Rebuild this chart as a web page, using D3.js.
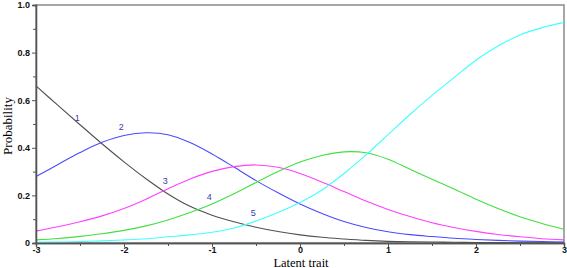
<!DOCTYPE html>
<html>
<head>
<meta charset="utf-8">
<script src="https://cdn.jsdelivr.net/npm/d3@7"></script>
<style>
  body { margin: 0; background: #fff; }
  svg { display: block; }
</style>
</head>
<body>
<svg id="chart" width="567" height="268"></svg>
<script>
// theta grid and category probabilities
let theta = [-3, -2.75, -2.5, -2.25, -2, -1.75, -1.5, -1.25, -1, -0.75, -0.5, -0.25, 0,
             0.25, 0.5, 0.75, 1, 1.25, 1.5, 1.75, 2, 2.25, 2.5, 2.75, 3];
let cat1 = [0.660, 0.578, 0.497, 0.417, 0.341, 0.270, 0.206, 0.154, 0.117, 0.089, 0.066, 0.048, 0.034,
            0.024, 0.017, 0.011, 0.007, 0.005, 0.004, 0.003, 0.002, 0.002, 0.001, 0.001, 0.001];
let cat2 = [0.279, 0.330, 0.380, 0.423, 0.452, 0.463, 0.455, 0.422, 0.374, 0.319, 0.262, 0.211, 0.164,
            0.124, 0.090, 0.065, 0.047, 0.035, 0.027, 0.020, 0.015, 0.011, 0.008, 0.006, 0.004];
let cat3 = [0.050, 0.068, 0.089, 0.114, 0.145, 0.184, 0.228, 0.269, 0.301, 0.321, 0.328, 0.318, 0.292,
            0.256, 0.216, 0.176, 0.141, 0.111, 0.085, 0.065, 0.049, 0.036, 0.026, 0.018, 0.013];
let cat4 = [0.013, 0.019, 0.028, 0.039, 0.053, 0.072, 0.097, 0.128, 0.164, 0.207, 0.254, 0.300, 0.340,
            0.368, 0.383, 0.379, 0.352, 0.310, 0.268, 0.227, 0.184, 0.145, 0.110, 0.082, 0.058];
let cat5 = [0.003, 0.004, 0.006, 0.009, 0.013, 0.018, 0.026, 0.034, 0.045, 0.063, 0.092, 0.128, 0.170,
            0.223, 0.292, 0.370, 0.455, 0.540, 0.620, 0.695, 0.768, 0.828, 0.874, 0.905, 0.927];
let catNames = ["1", "2", "3", "4", "5"];
let labelX = [-2.53, -2.03, -1.53, -1.03, -0.53];
let labelY = [0.524, 0.486, 0.259, 0.192, 0.127];
let xTicks = [-3, -2, -1, 0, 1, 2, 3];
let yTicks = [0, 0.2, 0.4, 0.6, 0.8, 1.0];

let colors = ["#505050", "#4a4aff", "#ff40ff", "#40e040", "#40ffff"];
let series = [cat1, cat2, cat3, cat4, cat5];

let svg = d3.select("#chart");
let mLeft = 36, mRight = 564, mTop = 5, mBottom = 243;

let xScale = d3.scaleLinear().domain([-3, 3]).range([mLeft, mRight]);
let yScale = d3.scaleLinear().domain([0, 1]).range([mBottom, mTop]);

// frame
svg.append("rect")
    .attr("x", mLeft)
    .attr("y", mTop)
    .attr("width", mRight - mLeft)
    .attr("height", mBottom - mTop)
    .attr("fill", "none")
    .attr("stroke", "#8a8a8a")
    .attr("stroke-width", 1.5);

// curves
let line = d3.line()
    .curve(d3.curveCatmullRom.alpha(0.5))
    .x((d, i) => xScale(theta[i]))
    .y((d) => yScale(d));

series.forEach(function (s, k) {
    svg.append("path")
        .attr("fill", "none")
        .attr("stroke", colors[k])
        .attr("stroke-width", 1.1)
        .attr("d", line(s));
});

// axes
svg.append("g")
    .attr("transform", "translate(0," + mBottom + ")")
    .call(d3.axisBottom(xScale).tickValues(xTicks).tickSize(4).tickPadding(0).tickFormat((d) => String(d)));
svg.append("g")
    .attr("transform", "translate(0," + mBottom + ")")
    .call(d3.axisBottom(xScale).tickValues(d3.range(-2.5, 3, 1)).tickSize(3).tickFormat(""));

svg.append("g")
    .attr("transform", "translate(" + mLeft + ",0)")
    .call(d3.axisLeft(yScale).tickValues(yTicks).tickSize(4).tickPadding(2)
        .tickFormat((d) => d === 0 ? "0" : d3.format(".1f")(d)));
svg.append("g")
    .attr("transform", "translate(" + mLeft + ",0)")
    .call(d3.axisLeft(yScale).tickValues(d3.range(0.1, 1, 0.2)).tickSize(3).tickFormat(""));

svg.selectAll(".domain").attr("stroke", "#555").attr("stroke-width", 1.3);
svg.selectAll(".tick line").attr("stroke", "#555");
svg.selectAll(".tick text")
    .attr("fill", "#111")
    .style("font-family", "Liberation Sans, Arial, sans-serif")
    .style("font-size", "9px")
    .style("font-weight", "bold");

// curve labels
catNames.forEach(function (n, k) {
    svg.append("text")
        .attr("x", xScale(labelX[k]))
        .attr("y", yScale(labelY[k]))
        .attr("text-anchor", "middle")
        .attr("dominant-baseline", "central")
        .attr("fill", "#3c3ca8")
        .style("font-family", "Liberation Sans, Arial, sans-serif")
        .style("font-size", "9px")
        .text(n);
});

// axis titles
svg.append("text")
    .attr("x", 301)
    .attr("y", 266.5)
    .attr("text-anchor", "middle")
    .style("font-family", "Liberation Serif, Times New Roman, serif")
    .style("font-size", "12.5px")
    .text("Latent trait");

svg.append("text")
    .attr("transform", "translate(12," + 126 + ") rotate(-90)")
    .attr("text-anchor", "middle")
    .style("font-family", "Liberation Serif, Times New Roman, serif")
    .style("font-size", "13px")
    .text("Probability");
</script>
</body>
</html>
